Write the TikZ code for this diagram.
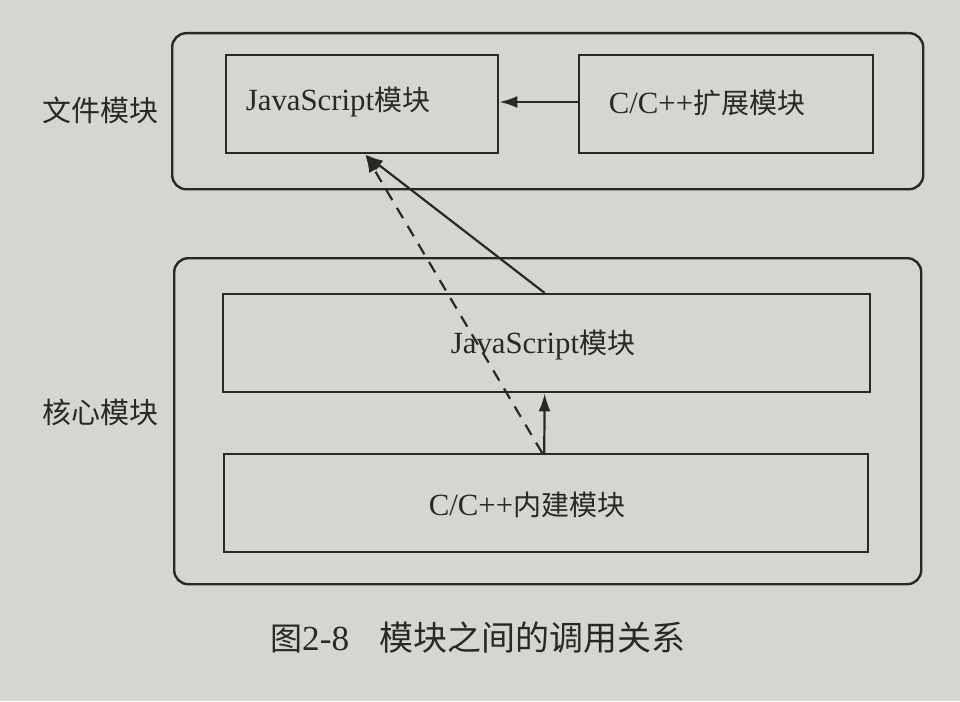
\documentclass[tikz,border=0pt]{standalone}
\usepackage{fontspec}
\setmainfont{Liberation Serif}[Scale=1.1]
\newfontfamily\cjk{Noto Sans CJK SC}
\usetikzlibrary{arrows.meta,calc}
\definecolor{paper}{RGB}{212,214,207}
\definecolor{ink}{RGB}{40,40,40}
\begin{document}
\begin{tikzpicture}[x=1pt,y=-1pt,
  outerbox/.style={draw=ink,line width=2.4pt,rounded corners=14pt},
  innerbox/.style={draw=ink,line width=2.4pt},
  lbl/.style={text=ink,font=\fontsize{28}{31}\selectfont,inner sep=0pt},
  arr/.style={draw=ink,line width=2.2pt,-{Latex[length=18pt,width=12pt]}},
  dasharr/.style={arr,dash pattern=on 12pt off 9pt}]
\fill[paper] (0,0) rectangle (960,701);
\useasboundingbox (0,0) rectangle (960,701);
% outer boxes
\node[outerbox,anchor=north west,minimum width=751pt,minimum height=156pt] (filebox) at (171,32) {};
\node[outerbox,anchor=north west,minimum width=747pt,minimum height=326pt] (corebox) at (173,257) {};
% inner boxes
\node[innerbox,anchor=north west,minimum width=272pt,minimum height=98pt] (fjs) at (225,54) {};
\node[innerbox,anchor=north west,minimum width=294pt,minimum height=98pt] (ext) at (578,54) {};
\node[innerbox,anchor=north west,minimum width=647pt,minimum height=98pt] (cjs) at (222,293) {};
\node[innerbox,anchor=north west,minimum width=644pt,minimum height=98pt] (cb) at (223,453) {};
% texts
\node[lbl] (fjst) at (338,102) {JavaScript{\cjk 模块}};
\node[lbl] (extt) at (707,103) {C/C++{\cjk 扩展模块}};
\node[lbl] (cjst) at (543,345) {JavaScript{\cjk 模块}};
\node[lbl] (cbt) at (527,505) {C/C++{\cjk 内建模块}};
\node[lbl,font=\fontsize{29}{32}\selectfont] (filel) at (100,110) {\cjk 文件模块};
\node[lbl,font=\fontsize{29}{32}\selectfont] (corel) at (100,412) {\cjk 核心模块};
\node[lbl,font=\fontsize{32}{36}\selectfont,anchor=west] (cap) at (270,638) {{\cjk 图}2-8\hspace{30pt}{\fontsize{34}{36}\selectfont\cjk 模块之间的调用关系}};
% connectors
\coordinate (ftarget) at ($(fjs.south west)!0.511!(fjs.south east)$);
\draw[arr] (ext.west |- 0,102) -- (fjs.east |- 0,102);
\draw[arr] ([xshift=-2pt]cjs.north) -- (ftarget);
\draw[dasharr] ([xshift=-4pt]cb.north) -- (ftarget);
\draw[arr] ([xshift=-2pt]cb.north) -- ([xshift=-2pt]cjs.south);
\end{tikzpicture}
\end{document}
